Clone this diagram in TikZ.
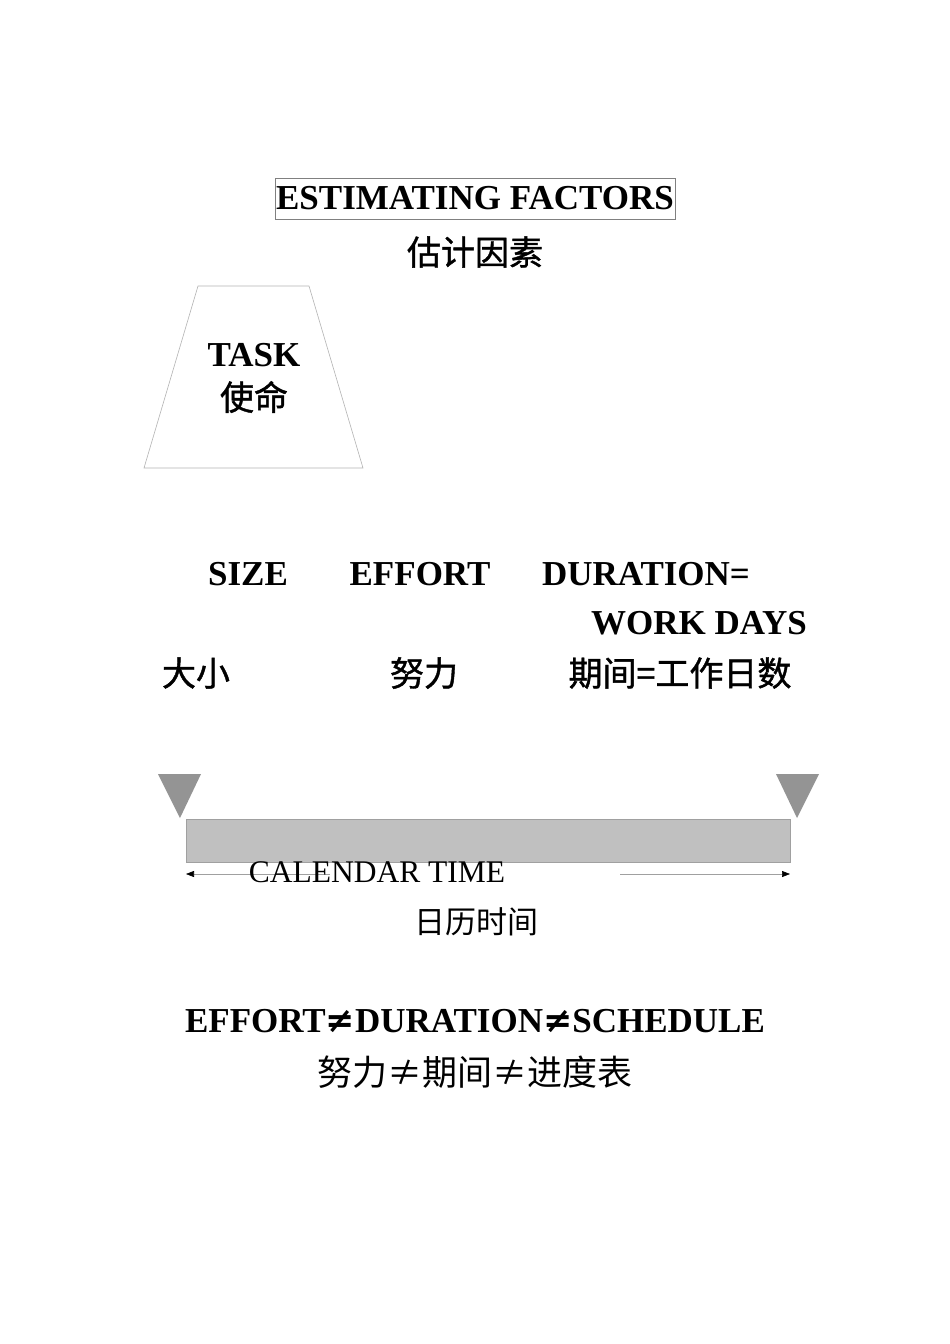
\documentclass[tikz,border=0pt]{standalone}
\usepackage{fontspec}
\setmainfont{Liberation Serif}
\newfontfamily\cjk{Noto Sans CJK SC}
\newfontfamily\cjkm[FakeBold=1.2]{Noto Sans CJK SC}
\newfontfamily\symb{DejaVu Sans}
\usetikzlibrary{arrows.meta}
\definecolor{trifill}{HTML}{949494}
\definecolor{barfill}{HTML}{C0C0C0}
\definecolor{edge}{HTML}{A0A0A0}
\tikzset{
  lat/.style={inner sep=0pt, font=\fontsize{35}{36}\selectfont\bfseries},
  latr/.style={inner sep=0pt, font=\fontsize{31.5}{34}\selectfont},
  zh/.style={inner sep=0pt, font=\fontsize{34}{36}\selectfont\cjkm},
  zhr/.style={inner sep=0pt, font=\fontsize{31}{34}\selectfont\cjk},
  marker/.style={fill=trifill, draw=none},
  timearrow/.style={draw=edge, line width=0.6pt, -{Triangle[length=8pt,width=6pt,color=black]}}
}
\begin{document}
\begin{tikzpicture}[x=1pt,y=-1pt]
\useasboundingbox (0,0) rectangle (950,1344);
\fill[white] (0,0) rectangle (950,1344);
% title
\node[lat, draw=gray, line width=0.6pt, minimum width=400pt, minimum height=41pt] (title) at (475,198.5) {ESTIMATING FACTORS};
\node[zh] (titlezh) at (475,252) {估计因素};
% trapezoid
\draw[draw=edge!80, line width=0.6pt] (198,286) -- (309,286) -- (363,468) -- (144,468) -- cycle;
\node[lat] (task) at (254,355) {TASK};
\node[zh] (taskzh) at (254,397) {使命};
% factors
\node[lat] (size) at (248,574) {SIZE};
\node[lat] (effort) at (420,574) {EFFORT};
\node[lat] (duration) at (646,574) {DURATION=};
\node[lat] (workdays) at (699,623) {WORK DAYS};
\node[zh] (sizezh) at (196,673) {大小};
\node[zh] (effortzh) at (424,673) {努力};
\node[zh] (durationzh) at (680,673) {期间=工作日数};
% markers
\fill[marker] (158,774) -- (201,774) -- (180,818) -- cycle;
\fill[marker] (776,774) -- (819,774) -- (797,818) -- cycle;
% bar
\node[draw=edge, fill=barfill, line width=0.6pt, minimum width=604pt, minimum height=43pt, inner sep=0pt] (bar) at (488,840.5) {};
% arrows
\coordinate (la) at (186,874);
\coordinate (lb) at (330,874);
\coordinate (ra) at (620,874);
\coordinate (rb) at (790,874);
\draw[timearrow] (lb) -- (la);
\draw[timearrow] (ra) -- (rb);
\node[latr] (cal) at (377,872) {CALENDAR TIME};
\node[zhr] (calzh) at (476,922) {日历时间};
% bottom
\node[lat] (neq) at (475,1021) {EFFORT{\symb\bfseries ≠}DURATION{\symb\bfseries ≠}SCHEDULE};
\node[inner sep=0pt, font=\fontsize{35}{36}\selectfont\cjk] (neqzh) at (475,1072) {努力≠期间≠进度表};
\end{tikzpicture}
\end{document}
